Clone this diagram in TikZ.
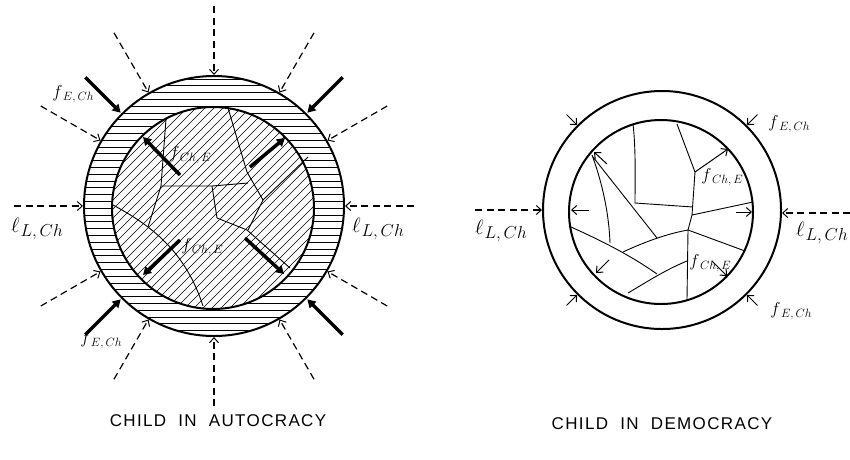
\documentclass[tikz,border=0pt]{standalone}
\usepackage{fontspec}
\setsansfont{Liberation Sans}
\newfontfamily\titlefont[LetterSpace=8]{Liberation Sans}
\usetikzlibrary{arrows.meta,calc}
\newcommand{\lblf}[2]{\fontsize{16}{18}\selectfont$#1$\kern0.5pt\raisebox{-0.5ex}{\fontsize{12.5}{14}\selectfont$#2$}}
\newcommand{\lbll}[2]{\fontsize{20}{22}\selectfont$#1$\kern1pt\raisebox{-0.55ex}{\fontsize{16}{18}\selectfont$#2$}}
\begin{document}
\begin{tikzpicture}[x=1pt,y=-1pt,
  ringline/.style={line width=2pt},
  crack/.style={line width=0.9pt},
  hatch/.style={line width=0.6pt},
  dasharrow/.style={line width=1.2pt, dash pattern=on 7pt off 4.5pt,
     -{Straight Barb[length=5pt,width=9pt,line width=1pt]}},
  heavyarrow/.style={line width=3.5pt, -{Triangle[length=8pt,width=9pt]}},
  smallarrow/.style={line width=1pt, -{Straight Barb[length=5pt,width=9pt,line width=1pt]}},
  lab/.style={inner sep=0pt},
  title/.style={inner sep=0pt, font=\titlefont\fontsize{17}{19}\selectfont}
]
\useasboundingbox (0,0) rectangle (850,459);
\fill[white] (0,0) rectangle (850,459);

% ---------------- LEFT: CHILD IN AUTOCRACY ----------------
\coordinate (cL) at (214,206);
\coordinate (cLi) at (213,208);
\begin{scope}
  \clip (cL) circle[radius=130pt];
  \foreach \y in {72,78.8,...,345} \draw[hatch] (70,\y) -- (360,\y);
\end{scope}
\fill[white] (cLi) circle[radius=101pt];
\begin{scope}
  \clip (cLi) circle[radius=101pt];
  \foreach \k in {-34,...,34} \draw[hatch] ($(cLi)+(\k*9-160,160)$) -- ++(320,-320);
\end{scope}
\draw[ringline] (cL) circle[radius=130pt];
\draw[ringline] (cLi) circle[radius=101pt];

% cracks
\draw[crack] (166,119) -- (161,186) -- (148,227);
\draw[crack] (161,186) -- (212,186) -- (248,183);
\draw[crack] (228,108) -- (247,172) -- (263,200);
\draw[crack] (212,186) -- (217,218) -- (247,230) -- (290,268);
\draw[crack] (263,200) -- (248,230);
\draw[crack] (308,157) -- (263,200);
\draw[crack] (113,205) .. controls (150,225) and (185,250) .. (203,306);

% dashed arrows
\foreach \a in {0,30,...,330} {
  \coordinate (ds\a) at ($(cL)+(\a:200pt)$);
  \coordinate (de\a) at ($(cL)+(\a:131pt)$);
  \draw[dasharrow] (ds\a) -- (de\a);
}
% heavy outer arrows
\foreach \a in {45,135,225,315} {
  \coordinate (hs\a) at ($(cL)+(\a:182pt)$);
  \coordinate (he\a) at ($(cL)+(\a:132pt)$);
  \draw[heavyarrow] (hs\a) -- (he\a);
}
% heavy inner arrows
\coordinate (i1s) at (180,175); \coordinate (i1e) at (143,137);
\coordinate (i2s) at (250,167); \coordinate (i2e) at (285,138);
\coordinate (i3s) at (180,240); \coordinate (i3e) at (143,275);
\coordinate (i4s) at (245,238); \coordinate (i4e) at (284,274);
\draw[heavyarrow] (i1s) -- (i1e);
\draw[heavyarrow] (i2s) -- (i2e);
\draw[heavyarrow] (i3s) -- (i3e);
\draw[heavyarrow] (i4s) -- (i4e);

% labels
\node[lab] (lf1) at (73,94) {\lblf{f}{E,Ch}};
\node[lab] (lf2) at (101,340) {\lblf{f}{E,Ch}};
\node[lab] (ll1) at (37,229) {\lbll{\ell}{L,Ch}};
\node[lab] (ll2) at (378,229) {\lbll{\ell}{L,Ch}};
\node[lab] (lc1) at (190,155) {\lblf{f}{Ch,E}};
\node[lab] (lc2) at (202,247) {\lblf{f}{Ch,E}};
\node[title] (t1) at (218,421) {CHILD\ \ IN\ \ AUTOCRACY};

% ---------------- RIGHT: CHILD IN DEMOCRACY ----------------
\coordinate (cR) at (662,210);
\coordinate (cRi) at (661,212);
\draw[ringline] (cR) circle[radius=119pt];
\draw[ringline] (cRi) circle[radius=92pt];

% cracks
\draw[crack] (592,155) .. controls (603,185) and (609,215) .. (610,243);
\draw[crack] (593,157) -- (657,238);
\draw[crack] (633,124) .. controls (636,150) and (635,180) .. (635,203);
\draw[crack] (635,203) -- (693,207);
\draw[crack] (677,124) -- (695,172) -- (692,215) -- (688,230) -- (687,299);
\draw[crack] (692,215) -- (753,202);
\draw[crack] (688,230) -- (745,251);
\draw[crack] (623,252) .. controls (640,244) and (665,234) .. (688,230);
\draw[crack] (571,227) .. controls (600,240) and (630,255) .. (657,274);
\draw[crack] (628,293) .. controls (645,283) and (665,270) .. (687,261);

% small inner arrows
\coordinate (a1s) at (607,164); \coordinate (a1e) at (594,152);
\coordinate (a2s) at (589,210); \coordinate (a2e) at (571,210);
\coordinate (a3s) at (609,260); \coordinate (a3e) at (596,273);
\coordinate (a4s) at (736,212); \coordinate (a4e) at (752,212);
\coordinate (a5s) at (695,172); \coordinate (a5e) at (728,149);
\coordinate (a6s) at (712,261); \coordinate (a6e) at (727,276);
\foreach \n in {1,...,6} \draw[smallarrow] (a\n s) -- (a\n e);

% small outer arrows
\foreach \a in {45,135,225,315} {
  \coordinate (os\a) at ($(cR)+(\a:135pt)$);
  \coordinate (oe\a) at ($(cR)+(\a:120pt)$);
  \draw[smallarrow] (os\a) -- (oe\a);
}
% dashed arrows
\coordinate (dl1) at (475,210); \coordinate (dl2) at (542,210);
\coordinate (dr1) at (850,213); \coordinate (dr2) at (782,213);
\draw[dasharrow] (dl1) -- (dl2);
\draw[dasharrow] (dr1) -- (dr2);

% labels
\node[lab] (rf1) at (789,124) {\lblf{f}{E,Ch}};
\node[lab] (rf2) at (791,311) {\lblf{f}{E,Ch}};
\node[lab] (rl1) at (501,231) {\lbll{\ell}{L,Ch}};
\node[lab] (rl2) at (822,233) {\lbll{\ell}{L,Ch}};
\node[lab] (rc1) at (722,177) {\lblf{f}{Ch,E}};
\node[lab] (rc2) at (710,263) {\lblf{f}{Ch,E}};
\node[title] (t2) at (662,424) {CHILD\ \ IN\ \ DEMOCRACY};
\end{tikzpicture}
\end{document}
